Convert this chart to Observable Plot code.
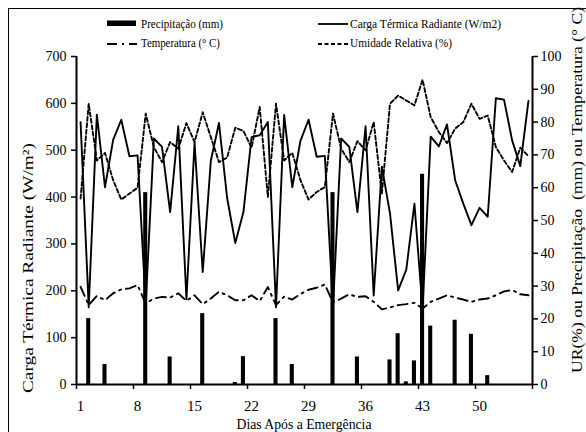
<!DOCTYPE html>
<html><head><meta charset="utf-8">
<script src="https://cdn.jsdelivr.net/npm/d3@7"></script>
<script src="https://cdn.jsdelivr.net/npm/@observablehq/plot@0.6"></script>
<style>
html,body{margin:0;padding:0;background:#fff;}
#chart{position:relative;width:586px;height:432px;overflow:hidden;background:#fff;}
#frame{position:absolute;left:8px;top:8px;width:700px;height:600px;border:1.5px solid #000;pointer-events:none;box-sizing:border-box;}
#chart svg{position:absolute;left:0;top:0;}
</style></head><body><div id="chart"><div id="frame"></div></div>
<script>
// Dias após a emergência (categorias)
const days = [1,2,3,4,5,6,7,8,9,10,11,12,13,14,15,16,17,18,19,20,21,22,23,24,25,26,27,28,
              29,30,31,32,33,34,35,36,37,38,39,40,41,42,43,44,45,46,47,48,49,50,51,52,53,54,55,56];
// Carga Térmica Radiante (W/m2) – eixo esquerdo
const ctr = [560,165,576,421,522,565,487,489,170,525,507,368,551,182,516,240,478,558,398,302,
             368,528,532,560,165,575,421,520,565,486,488,165,525,507,368,551,190,465,365,201,
             245,386,160,529,508,555,436,386,340,377,358,611,608,521,466,605];
// Temperatura (°C) – eixo direito
const temperatura = [29.8,24.2,27.0,25.7,27.8,29.0,29.3,30.3,24.7,26.2,26.7,26.5,27.8,25.5,27.2,24.5,
                     26.2,28.3,27.2,25.7,25.7,27.2,25.4,29.7,24.2,26.8,25.9,27.6,28.9,29.5,30.5,25.0,
                     26.2,27.5,26.7,26.9,25.2,22.9,23.5,24.2,24.5,24.9,23.2,25.2,26.2,27.2,26.5,25.9,
                     25.2,25.9,26.2,27.2,28.4,28.8,27.5,27.2];
// Umidade Relativa (%) – eixo direito
const umidade = [56.7,85.6,68.3,70.6,62.3,56.4,58.2,60.0,82.6,72.4,67.8,73.9,71.9,79.7,73.9,83.0,
                 75.4,67.8,69.2,78.3,77.3,72.2,84.6,57.2,85.6,68.3,70.6,62.3,56.4,58.7,60.2,82.6,
                 71.9,67.8,74.2,71.4,80.0,58.2,85.6,88.1,86.6,85.1,92.9,81.5,77.0,73.6,78.0,80.0,
                 85.6,81.0,82.0,72.4,68.3,64.8,72.2,69.6];
// Precipitação (mm) – eixo direito
const precipDays   = [2,4,9,12,16,20,21,25,27,32,35,39,40,41,42,43,44,47,49,51];
const precipValues = [20.1,6.1,58.5,8.4,21.6,0.6,8.5,20.1,6.1,58.5,8.4,7.5,15.5,0.8,7.2,64.1,17.8,19.6,15.3,2.7];

const xTickLabels = [1,8,15,22,29,36,43,50];
const xTickMarks  = [0.5,7.5,14.5,21.5,28.5,35.5,42.5,49.5,56.5];
const leftTicks   = [0,100,200,300,400,500,600,700];
const rightTicks  = [0,10,20,30,40,50,60,70,80,90,100];

const legendLabels = ["Precipitação (mm)","Temperatura (° C)","Carga Térmica Radiante (W/m2)","Umidade Relativa (%)"];
const leftTitle  = "Carga Térmica Radiante (W/m²)";
const rightTitle = "UR(%) ou Precipitação  (mm) ou Temperatura (° C)";
const xTitle     = "Dias Após a Emergência";

const K = 700 / 100; // right axis (0–100) mapped onto left axis (0–700)

const series = days.map((d, i) => ({day: d, ctr: ctr[i], t: temperatura[i], ur: umidade[i]}));
const rain = precipDays.map((d, i) => ({day: d, p: precipValues[i]}));

const font = "'Liberation Serif', 'Times New Roman', serif";

const svg = Plot.plot({
  width: 586, height: 432,
  marginTop: 56, marginBottom: 48, marginLeft: 76, marginRight: 54,
  style: {fontFamily: font, fontSize: "14px", background: "transparent", color: "black", overflow: "visible"},
  x: {domain: [0.5, 56.5]},
  y: {domain: [0, 700]},
  marks: [
    Plot.rectY(rain, {x1: d => d.day - 0.25, x2: d => d.day + 0.25, y1: 0, y2: d => d.p * K, fill: "black"}),
    Plot.line(series, {x: "day", y: d => d.t * K, stroke: "black", strokeWidth: 1.9, strokeDasharray: "10,5,2,5"}),
    Plot.line(series, {x: "day", y: d => d.ur * K, stroke: "black", strokeWidth: 1.9, strokeDasharray: "4,2.5"}),
    Plot.line(series, {x: "day", y: "ctr", stroke: "black", strokeWidth: 1.9}),
    Plot.axisY(leftTicks, {anchor: "left", tickSize: 5, tickPadding: 5, strokeWidth: 1.5, label: null}),
    Plot.axisY(rightTicks.map(v => v * K), {anchor: "right", tickSize: 5, tickPadding: 3, strokeWidth: 1.5,
      tickFormat: v => String(Math.round(v / K)), label: null}),
    Plot.axisX(xTickMarks, {anchor: "bottom", tickSize: 5, strokeWidth: 1.5, tickFormat: () => "", label: null}),
    Plot.axisX(xTickLabels, {anchor: "bottom", tickSize: 0, tickPadding: 16, fontSize: 15, label: null}),
    Plot.ruleX([0.5, 56.5], {stroke: "black", strokeWidth: 2}),
    Plot.ruleY([0], {stroke: "black", strokeWidth: 2})
  ]
});
document.getElementById("chart").appendChild(svg);

const s = d3.select(svg);

// legend
const lg = s.append("g").attr("font-size", 12).attr("fill", "black").attr("text-anchor", "start");
lg.append("rect").attr("x", 107).attr("y", 20.5).attr("width", 29).attr("height", 5.5).attr("fill", "black");
lg.append("line").attr("x1", 107).attr("x2", 137).attr("y1", 44).attr("y2", 44)
  .attr("stroke", "black").attr("stroke-width", 1.8).attr("stroke-dasharray", "10,5,2,5");
lg.append("line").attr("x1", 318).attr("x2", 348).attr("y1", 24).attr("y2", 24)
  .attr("stroke", "black").attr("stroke-width", 1.8);
lg.append("line").attr("x1", 318).attr("x2", 348).attr("y1", 44).attr("y2", 44)
  .attr("stroke", "black").attr("stroke-width", 1.8).attr("stroke-dasharray", "4,2.5");
const legendPos = [[141, 28, 82], [141, 47, 79], [350, 28, 151], [350, 47, 102]];
legendLabels.forEach((t, i) => {
  lg.append("text").attr("x", legendPos[i][0]).attr("y", legendPos[i][1]).attr("text-anchor", "start")
    .attr("textLength", legendPos[i][2]).attr("lengthAdjust", "spacingAndGlyphs").text(t);
});

// axis titles
s.append("text").attr("transform", "translate(32.5,393) rotate(-90)").attr("font-size", 14)
  .attr("text-anchor", "start").attr("fill", "black")
  .attr("textLength", 250).attr("lengthAdjust", "spacingAndGlyphs").text(leftTitle);
s.append("text").attr("transform", "translate(582,373) rotate(-90)").attr("font-size", 14)
  .attr("text-anchor", "start").attr("fill", "black")
  .attr("textLength", 366).attr("lengthAdjust", "spacingAndGlyphs").text(rightTitle);
s.append("text").attr("x", 236.5).attr("y", 429).attr("text-anchor", "start").attr("font-size", 14)
  .attr("fill", "black")
  .attr("textLength", 135).attr("lengthAdjust", "spacingAndGlyphs").text(xTitle);
</script></body></html>
